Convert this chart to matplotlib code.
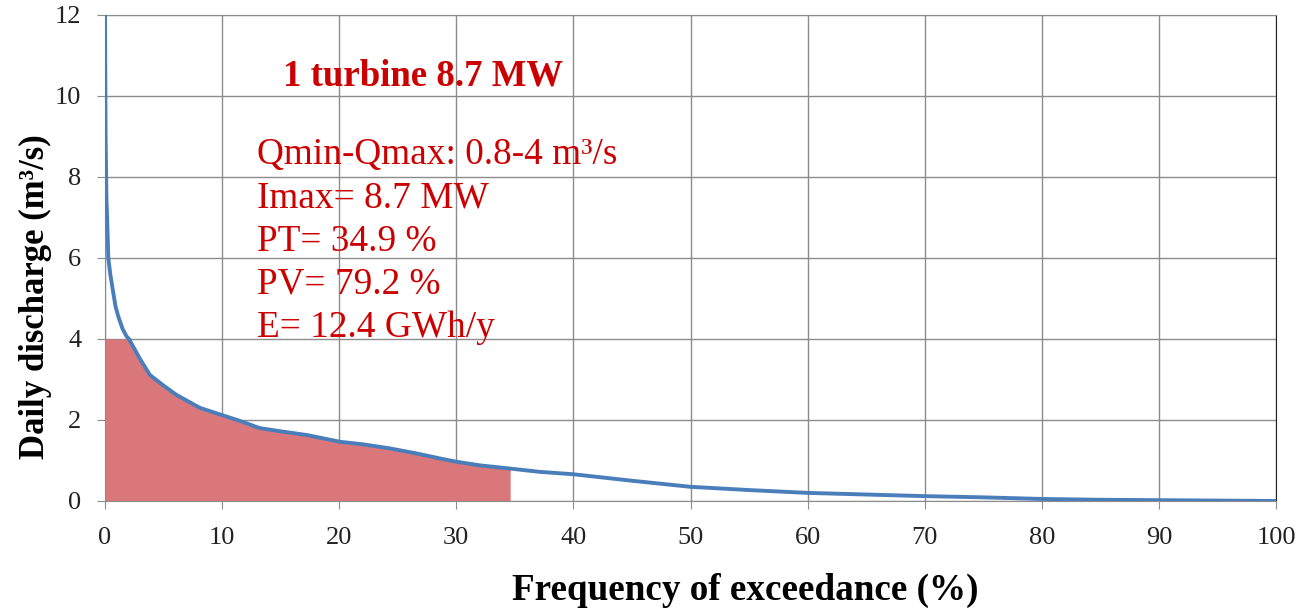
import numpy as np
import matplotlib.pyplot as plt

# flow duration curve
exceedance = [0.0, 0.05, 0.12, 0.2, 0.28, 0.45, 0.71, 0.9, 1.14, 1.5, 1.85, 2.05,
              3.0, 3.84, 5.0, 6.1, 8.1, 10.0, 11.5, 13.2, 15.0, 17.2, 20.1, 22.0,
              24.3, 26.5, 28.6, 30.0, 32.0, 34.6, 37.1, 40.0, 45.0, 50.0, 55.0,
              60.0, 65.0, 70.0, 75.0, 80.0, 85.0, 90.0, 95.0, 100.0]
discharge = [12.0, 9.0, 7.5, 6.8, 6.0, 5.6, 5.13, 4.8, 4.55, 4.25, 4.06, 4.0,
             3.5, 3.11, 2.85, 2.62, 2.3, 2.12, 1.98, 1.80, 1.72, 1.63, 1.46, 1.40,
             1.30, 1.18, 1.05, 0.97, 0.88, 0.80, 0.72, 0.66, 0.50, 0.35, 0.27,
             0.20, 0.16, 0.12, 0.09, 0.05, 0.03, 0.02, 0.01, 0.0]

q_max = 4.0
pt_limit = 34.6
title_text = "1 turbine 8.7 MW"
info_lines = ["Qmin-Qmax: 0.8-4 m\u00b3/s", "Imax= 8.7 MW", "PT= 34.9 %",
              "PV= 79.2 %", "E= 12.4 GWh/y"]

plt.rcParams['font.family'] = ['Liberation Serif', 'DejaVu Serif']

x = np.array(exceedance)
q = np.array(discharge)

fig = plt.figure(figsize=(13.11, 6.08), dpi=100)
ax = fig.add_axes([0.0801, 0.176, 0.8932, 0.7994])

mask = x <= pt_limit
ax.fill_between(x[mask], 0, np.minimum(q[mask], q_max), color='#d9777a',
                linewidth=0, zorder=2)
ax.plot(x, q, color='#4a7ebb', lw=2.8, zorder=3, solid_capstyle='butt')

ax.set_xlim(0, 100)
ax.set_ylim(0, 12)
ax.set_xticks(np.arange(0, 101, 10))
ax.set_yticks(np.arange(0, 13, 2))
ax.grid(True, color='#8c8c8c', lw=1.0, zorder=1)
ax.set_axisbelow(True)
for s in ['left', 'bottom', 'top']:
    ax.spines[s].set_color('#8c8c8c')
ax.spines['right'].set_color('#222222')
ax.tick_params(direction='out', length=6, color='#8c8c8c', labelsize=19,
               labelcolor='#222222')
ax.tick_params(axis='x', pad=13)
ax.tick_params(axis='y', pad=11)

ax.set_xlabel('Frequency of exceedance (%)', fontsize=26.7, fontweight='bold')
ax.xaxis.set_label_coords(0.5465, -0.148)
ax.set_ylabel('Daily discharge (m\u00b3/s)', fontsize=25, fontweight='bold')
ax.yaxis.set_label_coords(-0.045, 0.42)

ax.text(15.2, 10.5, title_text, color='#cc0000', fontsize=26.5, fontweight='bold',
        va='center', ha='left')
for i, line in enumerate(info_lines):
    ax.text(13.0, 8.55 - i * 1.07, line, color='#cc0000', fontsize=26.8,
            va='center', ha='left')

fig.savefig('out.png', dpi=100)
